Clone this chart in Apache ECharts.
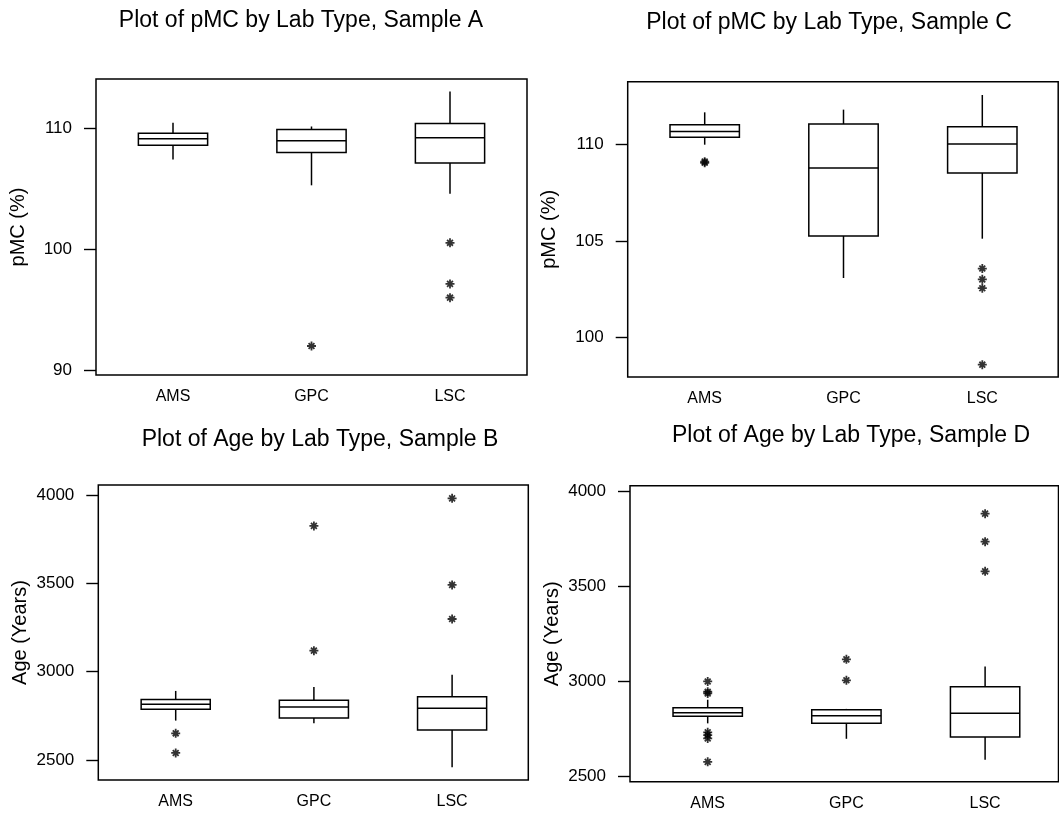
<!DOCTYPE html>
<html>
<head>
<meta charset="utf-8">
<title>Lab Type boxplots</title>
<script src="https://cdn.jsdelivr.net/npm/echarts@6/dist/echarts.min.js"></script>
<style>
    html, body { margin: 0; padding: 0; background: #fff; }
    #chart { width: 1059px; height: 816px; }
</style>
</head>
<body>
<div id="chart"></div>
<script type="text/javascript">
    // categories
    var labTypes = ['AMS', 'GPC', 'LSC'];

    // box values: [lower whisker, Q1, median, Q3, upper whisker]
    var boxA = [[107.43, 108.62, 109.15, 109.62, 110.47], [105.3, 108.01, 108.98, 109.92, 110.17], [104.6, 107.15, 109.23, 110.41, 113.07]];
    var boxC = [[110.0, 110.38, 110.69, 111.04, 111.68], [103.08, 105.26, 108.79, 111.07, 111.82], [105.12, 108.53, 110.04, 110.93, 112.58]];
    var boxB = [[2723, 2787, 2815, 2842, 2891], [2708, 2738, 2800, 2838, 2913], [2459, 2670, 2793, 2858, 2983]];
    var boxD = [[2780, 2817, 2836, 2862, 2904], [2699, 2780, 2820, 2851, 2856], [2589, 2708, 2833, 2972, 3079]];

    // outliers (asterisks)
    var outA = [['GPC', 92.0], ['LSC', 100.54], ['LSC', 97.14], ['LSC', 96.0]];
    var outC = [['AMS', 109.12], ['AMS', 109.06], ['LSC', 103.57], ['LSC', 103.01], ['LSC', 102.55], ['LSC', 98.58]];
    var outB = [['AMS', 2651], ['AMS', 2540], ['GPC', 3119], ['GPC', 3825], ['LSC', 3298], ['LSC', 3491], ['LSC', 3981]];
    var outD = [['AMS', 3000], ['AMS', 2946], ['AMS', 2937], ['AMS', 2733], ['AMS', 2718], ['AMS', 2701], ['AMS', 2578],
        ['GPC', 3116], ['GPC', 3006], ['LSC', 3578], ['LSC', 3734], ['LSC', 3881]];

    // tick labels
    var ticksA = [90, 100, 110];
    var ticksC = [100, 105, 110];
    var ticksAge = [2500, 3000, 3500, 4000];

    var FONT = 'Liberation Sans, Arial, sans-serif';
    var STAR = 'path://M8 0H12V20H8Z M0 8H20V12H0Z M2.1 4.9L4.9 2.1L17.9 15.1L15.1 17.9Z M15.1 2.1L17.9 4.9L4.9 17.9L2.1 15.1Z';

    // layout of each panel: frame box, category spacing, axis range
    var panels = [
        {title: 'Plot of pMC by Lab Type, Sample A', tx: 296, ty: 4, frame: [96, 79, 431, 296], first: 173, step: 138.5,
            min: 89.6, max: 114.1, ticks: ticksA, name: 'pMC (%)', box: boxA, out: outA},
        {title: 'Plot of pMC by Lab Type, Sample C', tx: 824, ty: 6, frame: [627.7, 81.7, 430.5, 295.3], first: 704.7, step: 138.8,
            min: 97.94, max: 113.27, ticks: ticksC, name: 'pMC (%)', box: boxC, out: outC},
        {title: 'Plot of Age by Lab Type, Sample B', tx: 315, ty: 423, frame: [98.3, 485, 430, 295], first: 175.7, step: 138.2,
            min: 2386.8, max: 4056.6, ticks: ticksAge, name: 'Age (Years)', box: boxB, out: outB},
        {title: 'Plot of Age by Lab Type, Sample D', tx: 846, ty: 419, frame: [630, 485.7, 428.5, 296], first: 707.7, step: 138.7,
            min: 2473.7, max: 4027.8, ticks: ticksAge, name: 'Age (Years)', box: boxD, out: outD}
    ];

    function renderBox(params, api) {
        var x = api.value(0);
        var lo = api.coord([x, api.value(1)]);
        var q1 = api.coord([x, api.value(2)]);
        var med = api.coord([x, api.value(3)]);
        var q3 = api.coord([x, api.value(4)]);
        var hi = api.coord([x, api.value(5)]);
        var half = api.size([1, 0])[0] * 0.25;
        var c = lo[0];
        var st = {stroke: '#000', lineWidth: 1.5, fill: null};
        return {
            type: 'group',
            children: [
                {type: 'line', shape: {x1: c, y1: hi[1], x2: c, y2: q3[1]}, style: st},
                {type: 'line', shape: {x1: c, y1: q1[1], x2: c, y2: lo[1]}, style: st},
                {type: 'rect', shape: {x: c - half, y: q3[1], width: half * 2, height: q1[1] - q3[1]},
                    style: {stroke: '#000', lineWidth: 1.5, fill: '#fff'}},
                {type: 'line', shape: {x1: c - half, y1: med[1], x2: c + half, y2: med[1]}, style: st}
            ]
        };
    }

    var option = {
        backgroundColor: '#fff',
        animation: false,
        title: [],
        grid: [],
        xAxis: [],
        yAxis: [],
        series: []
    };

    panels.forEach(function (p, k) {
        var f = p.frame;
        var dataLeft = p.first - p.step / 2;

        option.title.push({
            text: p.title, left: p.tx, top: p.ty, textAlign: 'center',
            textStyle: {fontFamily: FONT, fontSize: 23, fontWeight: 'normal', color: '#000'}
        });

        // frame grid (border only)
        option.grid.push({left: f[0], top: f[1], width: f[2], height: f[3], show: true,
            borderColor: '#000', borderWidth: 1.5, backgroundColor: 'transparent'});
        option.xAxis.push({gridIndex: 2 * k, type: 'value', min: 0, max: 1, show: false});
        option.yAxis.push({gridIndex: 2 * k, type: 'value', min: 0, max: 1, show: false});

        // data grid
        option.grid.push({left: dataLeft, top: f[1], width: p.step * 3, height: f[3]});
        option.xAxis.push({
            gridIndex: 2 * k + 1, type: 'category', data: labTypes,
            axisLine: {show: false},
            axisTick: {alignWithLabel: true, length: 9, lineStyle: {color: '#000', width: 1.4}},
            axisLabel: {margin: 14, color: '#000', fontFamily: FONT, fontSize: 16},
            splitLine: {show: false}
        });
        option.yAxis.push({
            gridIndex: 2 * k + 1, type: 'value', min: p.min, max: p.max,
            offset: dataLeft - f[0],
            name: p.name, nameLocation: 'middle', nameGap: 68,
            nameTextStyle: {fontFamily: FONT, fontSize: 20, color: '#000'},
            axisLine: {show: false},
            axisTick: {show: true, length: 12, customValues: p.ticks, lineStyle: {color: '#000', width: 1.4}},
            axisLabel: {margin: 24, customValues: p.ticks, color: '#000', fontFamily: FONT, fontSize: 17,
                formatter: function (v) { return String(v); }},
            splitLine: {show: false}
        });

        option.series.push({
            type: 'custom',
            xAxisIndex: 2 * k + 1, yAxisIndex: 2 * k + 1,
            renderItem: renderBox,
            encode: {x: 0, y: [1, 2, 3, 4, 5]},
            data: p.box.map(function (b, i) { return [i].concat(b); })
        });
        option.series.push({
            type: 'scatter',
            xAxisIndex: 2 * k + 1, yAxisIndex: 2 * k + 1,
            symbol: STAR, symbolSize: 9,
            itemStyle: {color: '#000'},
            z: 5,
            data: p.out
        });
    });

    var chart = echarts.init(document.getElementById('chart'), null, {renderer: 'canvas'});
    chart.setOption(option);
</script>
</body>
</html>
